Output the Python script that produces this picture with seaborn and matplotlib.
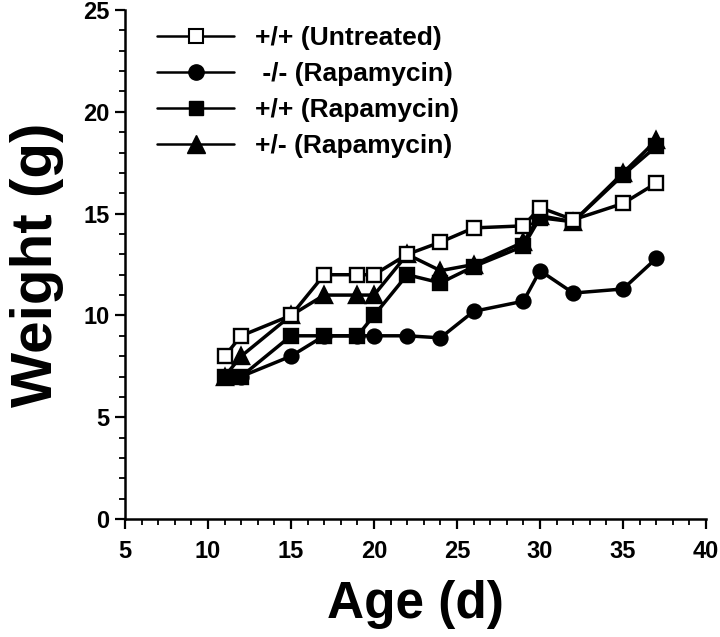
import matplotlib
matplotlib.use("Agg")
import matplotlib.pyplot as plt
import seaborn as sns
import pandas as pd
from matplotlib.lines import Line2D
from matplotlib.ticker import MultipleLocator

sns.set_theme(style="ticks")
plt.rcParams['font.family'] = ['Liberation Sans', 'DejaVu Sans']
plt.rcParams['font.weight'] = 'bold'
plt.rcParams['text.color'] = 'black'
plt.rcParams['axes.labelcolor'] = 'black'
plt.rcParams['xtick.color'] = 'black'
plt.rcParams['ytick.color'] = 'black'

# Data
labels = ["+/+ (Untreated)", " -/- (Rapamycin)", "+/+ (Rapamycin)", "+/- (Rapamycin)"]

age_untreated = [11, 12, 15, 17, 19, 20, 22, 24, 26, 29, 30, 32, 35, 37]
wt_untreated = [8.0, 9.0, 10.0, 12.0, 12.0, 12.0, 13.0, 13.6, 14.3, 14.4, 15.3, 14.7, 15.5, 16.5]

age_ko = [11, 12, 15, 17, 19, 20, 22, 24, 26, 29, 30, 32, 35, 37]
wt_ko = [7.0, 7.0, 8.0, 9.0, 9.0, 9.0, 9.0, 8.9, 10.2, 10.7, 12.2, 11.1, 11.3, 12.8]

age_wt_rapa = [11, 12, 15, 17, 19, 20, 22, 24, 26, 29, 30, 32, 35, 37]
wt_wt_rapa = [7.0, 7.0, 9.0, 9.0, 9.0, 10.0, 12.0, 11.6, 12.4, 13.4, 14.8, 14.6, 16.9, 18.3]

age_het_rapa = [11, 12, 15, 17, 19, 20, 22, 24, 26, 29, 30, 32, 35, 37]
wt_het_rapa = [7.0, 8.0, 10.0, 11.0, 11.0, 11.0, 13.0, 12.2, 12.5, 13.6, 14.9, 14.6, 17.0, 18.6]

x_ticks = [5, 10, 15, 20, 25, 30, 35, 40]
y_ticks = [0, 5, 10, 15, 20, 25]

fig = plt.figure(figsize=(7.2, 6.37), dpi=100)
ax = fig.add_axes([0.1736, 0.1852, 0.807, 0.799])

series = [
    (age_ko, wt_ko, 'o', 'black', 10, 2),
    (age_het_rapa, wt_het_rapa, '^', 'black', 12, 3),
    (age_wt_rapa, wt_wt_rapa, 's', 'black', 10, 4),
    (age_untreated, wt_untreated, 's', 'white', 10, 5),
]
order_labels = [labels[1], labels[3], labels[2], labels[0]]
for (xs, ys, m, fc, ms, z), lab in zip(series, order_labels):
    df = pd.DataFrame({"Age": xs, "Weight": ys})
    sns.lineplot(data=df, x="Age", y="Weight", ax=ax, color="black",
                 marker=m, markersize=ms, markerfacecolor=fc,
                 markeredgecolor="black", markeredgewidth=1.7,
                 linewidth=2.5, zorder=z, legend=False)

ax.set_xlim(5, 40)
ax.set_ylim(0, 25)
ax.set_xticks(x_ticks)
ax.set_yticks(y_ticks)
ax.xaxis.set_minor_locator(MultipleLocator(1))
ax.yaxis.set_minor_locator(MultipleLocator(1))
ax.tick_params(axis='both', which='major', direction='out', length=7, width=1.6,
               labelsize=17, color='black', labelcolor='black', pad=4)
ax.tick_params(axis='both', which='minor', direction='out', length=4, width=1.3, color='black')
for lab in ax.get_xticklabels() + ax.get_yticklabels():
    lab.set_fontweight('bold')
ax.tick_params(axis='x', pad=8)

for s in ['top', 'right']:
    ax.spines[s].set_visible(False)
for s in ['left', 'bottom']:
    ax.spines[s].set_linewidth(1.8)
    ax.spines[s].set_color('black')

ax.set_xlabel("Age (d)", fontsize=37, fontweight='bold', labelpad=12)
ax.set_ylabel("Weight (g)", fontsize=42, fontweight='bold', labelpad=14)

handles = [
    Line2D([], [], color='black', lw=1.8, marker='s', markersize=10, markerfacecolor='white', markeredgecolor='black', markeredgewidth=1.5),
    Line2D([], [], color='black', lw=1.8, marker='o', markersize=11, markerfacecolor='black'),
    Line2D([], [], color='black', lw=1.8, marker='s', markersize=10, markerfacecolor='black'),
    Line2D([], [], color='black', lw=1.8, marker='^', markersize=13, markerfacecolor='black'),
]
leg = ax.legend(handles, labels, loc='upper left', bbox_to_anchor=(0.015, 1.015),
                frameon=False, handlelength=2.9, handletextpad=0.8, labelspacing=0.45,
                prop={'weight': 'bold', 'size': 19})

fig.savefig("out.png", dpi=100)
